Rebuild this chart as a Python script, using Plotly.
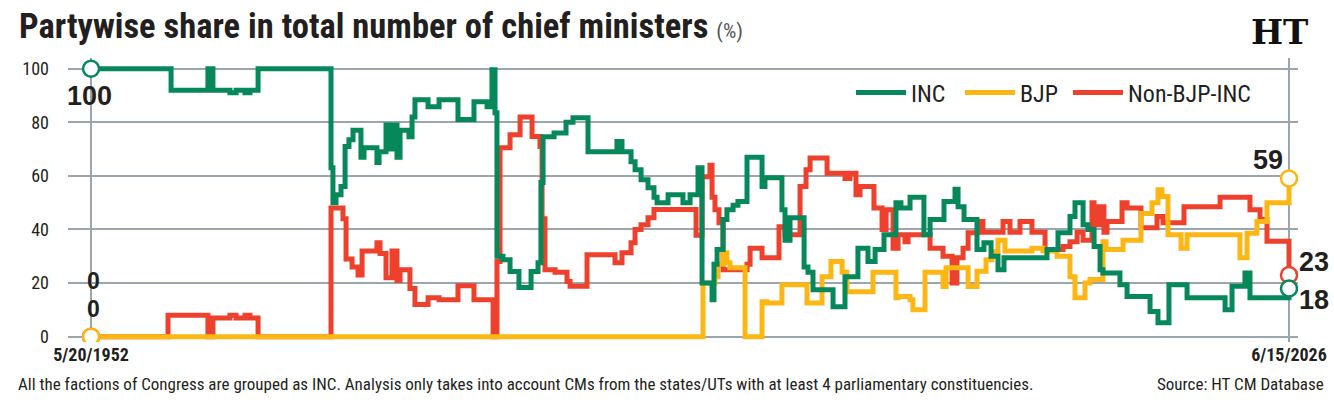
import numpy as np
import pandas as pd
import plotly.graph_objects as go

# ---------------- data ----------------
START_DATE = "1952-05-20"
END_DATE = "2026-06-15"
X_TICK_LABELS = ["5/20/1952", "6/15/2026"]
Y_TICKS = [0, 20, 40, 60, 80, 100]

inc_years = [1957.33, 1959.61, 1959.92, 1960.97, 1961.35, 1961.90, 1962.21, 1962.71, 1967.22, 1967.34,
             1967.53, 1967.84, 1968.09, 1968.33, 1968.58, 1969.07, 1969.26, 1970.06, 1970.19, 1970.62,
             1970.87, 1970.99, 1971.30, 1971.49, 1972.04, 1972.23, 1972.41, 1973.22, 1973.90, 1975.07,
             1976.06, 1976.87, 1977.17, 1977.36, 1977.48, 1977.85, 1978.29, 1978.84, 1979.59, 1980.02,
             1980.20, 1980.33, 1981.01, 1981.75, 1982.18, 1983.11, 1984.90, 1985.21, 1985.77, 1986.02,
             1986.39, 1986.82, 1987.19, 1987.38, 1988.06, 1988.98, 1989.42, 1989.91, 1990.16, 1990.78,
             1990.90, 1991.09, 1991.46, 1991.70, 1992.08, 1992.38, 1992.94, 1993.87, 1994.05, 1995.10,
             1995.29, 1995.60, 1996.47, 1996.71, 1997.02, 1998.26, 1999.00, 1999.80, 2000.42, 2000.86,
             2001.41, 2002.15, 2002.46, 2003.02, 2003.88, 2004.26, 2005.12, 2005.80, 2005.99, 2006.36,
             2007.16, 2007.59, 2008.03, 2008.46, 2008.83, 2011.49, 2012.17, 2012.91, 2013.22, 2013.72,
             2014.02, 2014.40, 2014.77, 2014.95, 2016.00, 2016.44, 2017.86, 2018.35, 2019.03, 2020.15,
             2022.50, 2022.93, 2023.73, 2024.04]
inc_values = [92, 100, 92, 91, 92, 91, 92, 100, 63, 50,
              53, 56, 71, 73.5, 77, 67, 70.5, 65, 69, 79,
              70, 79, 67, 77, 74.6, 82, 88.4, 85.8, 88.4, 81,
              87.7, 85.8, 99.6, 83.6, 30, 28.7, 24.3, 18.3, 24.3, 27.6,
              57.5, 74.6, 76, 80, 81.7, 69, 72.8, 69, 65.3, 62.3,
              58.6, 55.6, 52, 50, 53, 50, 53, 63, 20, 13.8,
              27, 32.5, 43.7, 47.4, 49, 50.4, 67, 56, 59.3, 47.4,
              36, 44.4, 26, 24, 17.5, 11.2, 22.4, 33, 28, 32.5,
              38, 50, 48, 52, 38, 43.7, 50.4, 55, 48.5, 43.7,
              32.5, 35, 30, 25, 29.4, 32.5, 38.8, 44.8, 50, 41.8,
              40, 33.6, 25, 23.8, 19.4, 15, 9.4, 5.2, 19.4, 14.5,
              10, 18.8, 23.8, 14.5]
inc_start, inc_end = 100, 18

bjp_years = [1990.22, 1990.96, 1991.15, 1991.46, 1991.70, 1991.89, 1992.82, 1993.87, 1994.18, 1995.10,
             1996.65, 1997.58, 1998.13, 1998.82, 1999.12, 2000.73, 2002.15, 2002.28, 2003.02, 2003.20,
             2003.95, 2005.06, 2005.25, 2006.61, 2007.16, 2007.72, 2008.09, 2008.46, 2008.89, 2010.56,
             2011.24, 2012.11, 2012.91, 2013.22, 2013.84, 2014.15, 2014.95, 2015.14, 2016.19, 2017.30,
             2017.98, 2018.35, 2018.60, 2018.97, 2019.78, 2020.15, 2023.42, 2023.86, 2024.47, 2025.09]
bjp_values = [20, 22.4, 27, 31.3, 27.6, 25.7, 0, 13, 12.6, 19.4,
              12.6, 22.4, 28, 24, 16.8, 24, 14.5, 15, 13.8, 10,
              24, 18.7, 25.7, 18.7, 24.4, 28.7, 31.7, 36, 32, 33,
              32, 30, 22.4, 14.5, 20, 21.3, 35.4, 32.5, 36, 46,
              50, 54.8, 52.3, 38, 33, 38, 29.4, 38.6, 43, 50]
bjp_start, bjp_end = 0, 59

oth_years = [1957.14, 1959.61, 1959.92, 1960.97, 1961.35, 1961.90, 1962.21, 1962.71, 1967.22, 1967.96,
             1968.15, 1968.52, 1968.89, 1969.14, 1970.06, 1970.25, 1970.62, 1970.99, 1971.30, 1971.49,
             1972.10, 1972.41, 1973.22, 1973.90, 1975.07, 1976.06, 1977.24, 1977.48, 1977.67, 1978.29,
             1978.91, 1979.65, 1980.14, 1980.27, 1980.45, 1981.07, 1981.81, 1982.00, 1983.05, 1984.78,
             1985.21, 1985.77, 1986.02, 1986.39, 1986.82, 1987.19, 1989.79, 1990.16, 1990.65, 1990.78,
             1990.96, 1991.21, 1991.46, 1992.94, 1993.13, 1993.87, 1994.92, 1995.29, 1996.22, 1996.59,
             1996.84, 1997.89, 1999.00, 1999.31, 1999.68, 1999.93, 2000.79, 2001.29, 2001.54, 2001.97,
             2002.28, 2002.71, 2002.90, 2004.26, 2005.06, 2005.62, 2005.92, 2006.30, 2006.61, 2007.22,
             2007.53, 2008.77, 2009.20, 2009.82, 2010.56, 2011.37, 2012.48, 2012.91, 2013.35, 2013.72,
             2014.27, 2014.40, 2014.71, 2015.01, 2015.20, 2016.13, 2016.44, 2017.30, 2018.29, 2018.66,
             2019.96, 2022.19, 2024.04, 2024.66, 2025.09]
oth_values = [8, 0, 7, 8, 7, 8, 7, 0, 48, 44,
              29, 26, 23, 32, 35, 31, 22, 32, 21, 25,
              18, 12, 14.5, 13.8, 19, 13.8, 0, 28, 70.5, 75.4,
              82, 74.7, 71, 44, 25, 24, 20.6, 18.8, 30.6, 27.6,
              31.3, 35, 40, 41.8, 44.4, 47.5, 37.8, 59.7, 64, 52,
              47.4, 42.5, 25, 27, 33, 29.4, 41, 38, 56, 62.3,
              66.7, 61, 59, 61, 53, 56, 48, 40, 47.4, 33,
              38, 35.4, 38, 33, 30, 20, 29.4, 33, 38.8, 43,
              39, 43, 39, 43, 39, 32.5, 33.6, 35.4, 39, 36,
              50, 41.8, 48.5, 39, 43, 50, 48, 40.6, 44.8, 42.5,
              48.5, 52, 47.4, 43.7, 35.6]
oth_start, oth_end = 0, 23

SERIES_NAMES = ["INC", "BJP", "Non-BJP-INC"]

# ---------------- styling ----------------
GREEN = "#07885a"
YELLOW = "#fdb714"
RED = "#ee412d"
INK = "#231f20"
GRID = "#9aa5ad"
NARROW = "Liberation Sans Narrow, Arial Narrow, Roboto Condensed, DejaVu Sans Condensed, sans-serif"
BOLDF = "Liberation Sans, Arial, sans-serif"

W, H = 1334, 409
ML, MR, MT, MB = 68, 36, 58, 67


def to_date(y):
    yi = int(np.floor(y))
    frac = y - yi
    a = pd.Timestamp(year=yi, month=1, day=1)
    b = pd.Timestamp(year=yi + 1, month=1, day=1)
    return (a + (b - a) * frac).round("s")


def series_x(years):
    return [pd.Timestamp(START_DATE)] + [to_date(v) for v in years] + [pd.Timestamp(END_DATE)]


inc_x, inc_y = series_x(inc_years), [inc_start] + inc_values + [inc_end]
bjp_x, bjp_y = series_x(bjp_years), [bjp_start] + bjp_values + [bjp_end]
oth_x, oth_y = series_x(oth_years), [oth_start] + oth_values + [oth_end]

pw = W - ML - MR
ph = H - MT - MB


def px_x(p):
    return (p - ML) / pw


def px_y(p):
    return (H - MB - p) / ph


fig = go.Figure()
# draw order: red, yellow, green (green on top); each series has its own legend box
for name, xs, ys, col, leg in [
    (SERIES_NAMES[2], oth_x, oth_y, RED, "legend3"),
    (SERIES_NAMES[1], bjp_x, bjp_y, YELLOW, "legend2"),
    (SERIES_NAMES[0], inc_x, inc_y, GREEN, "legend"),
]:
    fig.add_trace(go.Scatter(x=xs, y=ys, mode="lines", name=name, legend=leg,
                             line=dict(color=col, width=5, shape="hv"), hoverinfo="skip"))

for xs, ys, col in [(oth_x, oth_y, RED), (bjp_x, bjp_y, YELLOW), (inc_x, inc_y, GREEN)]:
    fig.add_trace(go.Scatter(x=[xs[0], xs[-1]], y=[ys[0], ys[-1]], mode="markers", showlegend=False,
                             marker=dict(symbol="circle", size=16, color="white",
                                         line=dict(color=col, width=2.5)), hoverinfo="skip"))

# value labels at the ends
end_labels = [
    (inc_x[0], inc_y[0], f"{inc_start}", -2, -27, 27),
    (bjp_x[0], bjp_y[0], f"{bjp_start}", 2, 56, 23),
    (oth_x[0], oth_y[0], f"{oth_start}", 2, 28, 23),
    (bjp_x[-1], bjp_y[-1], f"{bjp_end}", -21, 19, 27),
    (oth_x[-1], oth_y[-1], f"{oth_end}", 25, 13, 27),
    (inc_x[-1], inc_y[-1], f"{inc_end}", 25, -12, 27),
]
for x, y, t, dx, dy, fs in end_labels:
    fig.add_annotation(x=x, y=y, text=f"<b>{t}</b>", showarrow=False, xshift=dx, yshift=dy,
                       font=dict(family=BOLDF, size=fs, color=INK), xanchor="center", yanchor="middle")

# HT logo
fig.add_annotation(xref="paper", yref="paper", x=px_x(1279), y=px_y(32), text="<b>HT</b>",
                   showarrow=False, font=dict(family="DejaVu Serif, serif", size=34, color="#111"),
                   xanchor="center", yanchor="middle")
# footnote and source
fig.add_annotation(xref="paper", yref="paper", x=px_x(16), y=px_y(384),
                   text="All the factions of Congress are grouped as INC. Analysis only takes into account CMs from the states/UTs with at least 4 parliamentary constituencies.",
                   showarrow=False, font=dict(family=NARROW, size=17, color=INK),
                   xanchor="left", yanchor="middle")
fig.add_annotation(xref="paper", yref="paper", x=px_x(1326), y=px_y(384),
                   text="Source: HT CM Database", showarrow=False,
                   font=dict(family=NARROW, size=17, color=INK), xanchor="right", yanchor="middle")

x0 = to_date(1952.38 - (91 - ML) * 0.06183)
x1 = to_date(1952.38 + (W - MR - 91) * 0.06183)

leg_common = dict(y=px_y(93), xanchor="left", yanchor="middle", orientation="h",
                  font=dict(family=NARROW, size=24, color=INK), bgcolor="rgba(0,0,0,0)", itemwidth=50)

fig.update_layout(
    width=W, height=H,
    margin=dict(l=ML, r=MR, t=MT, b=MB, autoexpand=False),
    paper_bgcolor="white", plot_bgcolor="white",
    title=dict(text="<b>Partywise share in total number of chief ministers</b> "
                    "<span style='font-size:21px;color:#555;font-weight:normal'>(%)</span>",
               x=19 / W, xanchor="left", xref="container",
               y=1 - 26 / H, yanchor="middle", yref="container",
               font=dict(family=NARROW, size=34.5, color=INK)),
    xaxis=dict(type="date", range=[x0, x1], tickvals=[pd.Timestamp(START_DATE), pd.Timestamp(END_DATE)],
               ticktext=[f"<b>{t}</b>" for t in X_TICK_LABELS], showgrid=True, gridcolor=GRID,
               gridwidth=1.5, zeroline=False, showline=False, ticks="",
               tickfont=dict(family=NARROW, size=18, color=INK)),
    yaxis=dict(range=[-2, 104], tickvals=Y_TICKS, showgrid=True, gridcolor=GRID, gridwidth=1.5,
               zeroline=False, showline=False, ticks="", ticklabelstandoff=18,
               tickfont=dict(family=NARROW, size=18, color=INK)),
    legend=dict(x=px_x(851), **leg_common),
    legend2=dict(x=px_x(960), **leg_common),
    legend3=dict(x=px_x(1068), **leg_common),
    showlegend=True,
)

fig.write_html("out.html")
